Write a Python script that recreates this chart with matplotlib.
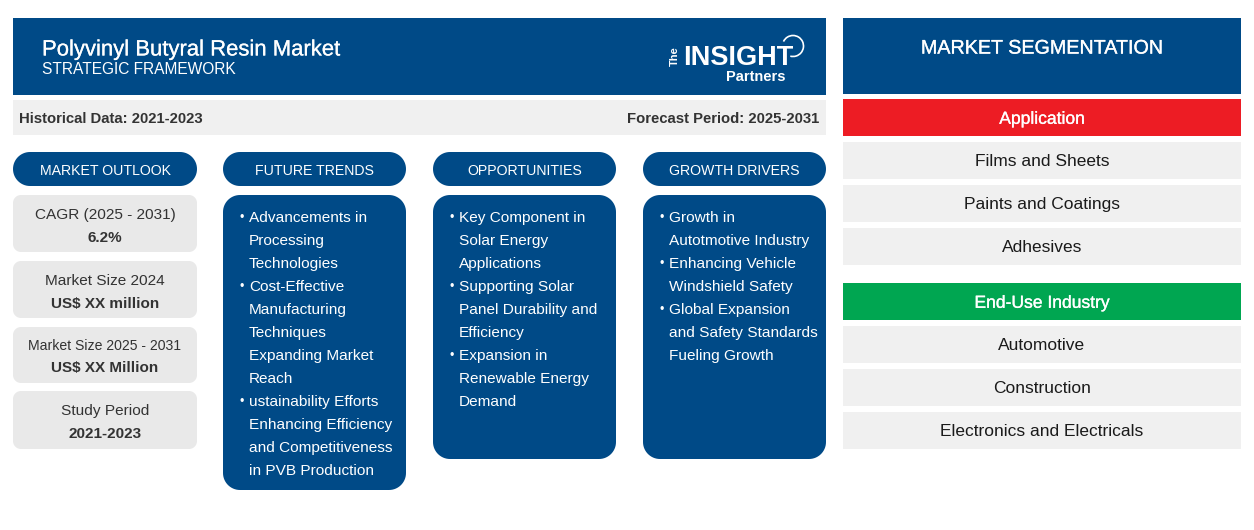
import numpy as np
import matplotlib
matplotlib.use('Agg')
import matplotlib.pyplot as plt
import matplotlib.patheffects as pe
from matplotlib.patches import Polygon, Rectangle, Arc

plt.rcParams['font.family'] = ['Liberation Sans', 'DejaVu Sans']

NAVY = '#004A87'
GREY = '#F0F0F0'
W, H = 1254, 530

title = 'Polyvinyl Butyral Resin Market'
subtitle = 'STRATEGIC FRAMEWORK'
historical = 'Historical Data: 2021-2023'
forecast = 'Forecast Period: 2025-2031'

outlook_labels = ['CAGR (2025 - 2031)', 'Market Size 2024', 'Market Size 2025 - 2031', 'Study Period']
outlook_values = ['6.2%', 'US$ XX million', 'US$ XX Million', '2021-2023']

column_heads = ['FUTURE TRENDS', 'OPPORTUNITIES', 'GROWTH DRIVERS']
trends = [['Advancements in', 'Processing', 'Technologies'],
          ['Cost-Effective', 'Manufacturing', 'Techniques', 'Expanding Market', 'Reach'],
          ['ustainability Efforts', 'Enhancing Efficiency', 'and Competitiveness', 'in PVB Production']]
opportunities = [['Key Component in', 'Solar Energy', 'Applications'],
                 ['Supporting Solar', 'Panel Durability and', 'Efficiency'],
                 ['Expansion in', 'Renewable Energy', 'Demand']]
drivers = [['Growth in', 'Autotmotive Industry'],
           ['Enhancing Vehicle', 'Windshield Safety'],
           ['Global Expansion', 'and Safety Standards', 'Fueling Growth']]

applications = ['Films and Sheets', 'Paints and Coatings', 'Adhesives']
end_uses = ['Automotive', 'Construction', 'Electronics and Electricals']


def box(ax, x0, y0, x1, y1, color, radius=0):
    if radius:
        # real circular corners, the fancy box ones come out too square
        t = np.linspace(0, np.pi / 2, 16)
        pts = []
        for cx, cy, start in [(x1 - radius, y0 + radius, -np.pi / 2), (x1 - radius, y1 - radius, 0),
                              (x0 + radius, y1 - radius, np.pi / 2), (x0 + radius, y0 + radius, np.pi)]:
            pts += list(zip(cx + radius * np.cos(start + t), cy + radius * np.sin(start + t)))
        ax.add_patch(Polygon(pts, closed=True, fc=color, ec='none'))
    else:
        ax.add_patch(Rectangle((x0, y0), x1 - x0, y1 - y0, fc=color, ec='none'))


def label(ax, x, y, s, size=12, color='#1a1a1a', heavy=0, **kw):
    # y is the visual middle of the line, baseline keeps line spacing even
    kw.setdefault('ha', 'center')
    t = ax.text(x, y + size * 0.50, s, fontsize=size, color=color, va='baseline', **kw)
    if heavy:
        t.set_path_effects([pe.withStroke(linewidth=heavy, foreground=color)])
    return t


fig = plt.figure(figsize=(W / 100, H / 100), dpi=100)
ax = fig.add_axes([0, 0, 1, 1])
ax.set_xlim(0, W)
ax.set_ylim(H, 0)
ax.axis('off')

# header
box(ax, 13, 18, 826, 95, NAVY)
label(ax, 42, 47.5, title, 15.9, 'white', heavy=0.15, ha='left')
label(ax, 42, 68.5, subtitle, 11.2, 'white', ha='left')

# logo
label(ax, 678, 52, 'The', 8, 'white', rotation=90, rotation_mode='anchor', fontweight='bold')
label(ax, 738, 55.5, 'INSIGHT', 19.5, 'white', fontweight='bold')
label(ax, 756, 75.5, 'Partners', 10.5, 'white', fontweight='bold')
ax.add_patch(Arc((793, 46), 21, 21, theta1=-155, theta2=105, ec='white', lw=1.2))

box(ax, 13, 100, 826, 135, GREY)
label(ax, 19, 117.5, historical, 10.75, '#333333', ha='left', fontweight='bold')
label(ax, 819, 117.5, forecast, 10.75, '#333333', ha='right', fontweight='bold')

# market outlook column
box(ax, 13, 152, 197, 186, NAVY, 17)
label(ax, 105, 169.5, 'MARKET OUTLOOK', 10.2, 'white')
outlook_tops = [195, 261, 327, 391]
outlook_bottoms = [252, 318, 383, 449]
outlook_label_y = [213.5, 279.5, 345, 409.5]
outlook_value_y = [236.5, 302.5, 366.5, 432.5]
for i, (lab, val) in enumerate(zip(outlook_labels, outlook_values)):
    box(ax, 13, outlook_tops[i], 197, outlook_bottoms[i], '#E9E9E9', 8)
    label(ax, 105, outlook_label_y[i], lab, 10.1 if 'Market Size 2025' in lab else 11.1, '#333333')
    label(ax, 105, outlook_value_y[i], val, 11, '#333333', fontweight='bold')

# text columns
col_lefts = [223, 433, 643]
col_bottoms = [490, 459, 459]
col_items = [trends, opportunities, drivers]
for left, bottom, head, items in zip(col_lefts, col_bottoms, column_heads, col_items):
    box(ax, left, 152, left + 183, 186, NAVY, 17)
    label(ax, left + 91.5, 169.5, head, 10.2, 'white')
    box(ax, left, 195, left + 183, bottom, NAVY, 17)
    y = 216.5
    for item in items:
        label(ax, left + 19, y, '\u2022', 9, 'white')
        for line in item:
            label(ax, left + 26, y, line, 11.05, 'white', ha='left')
            y += 23

# segmentation panel
box(ax, 843, 18, 1241, 94, NAVY)
label(ax, 1042, 46.5, 'MARKET SEGMENTATION', 14.2, 'white', heavy=0.2)
box(ax, 843, 99, 1241, 136, '#ED1C24')
label(ax, 1042, 117.5, 'Application', 12.6, 'white', heavy=0.2)
for top, name in zip([142, 185, 228], applications):
    box(ax, 843, top, 1241, top + 37, GREY)
    label(ax, 1042, top + 17.7, name, 12.5)
box(ax, 843, 283, 1241, 320, '#00A651')
label(ax, 1042, 301.5, 'End-Use Industry', 12.6, 'white', heavy=0.2)
for top, name in zip([326, 369, 412], end_uses):
    box(ax, 843, top, 1241, top + 37, GREY)
    label(ax, 1042, top + 17.7, name, 12.5)

fig.savefig('out.png', dpi=100, facecolor='white')
plt.close(fig)
